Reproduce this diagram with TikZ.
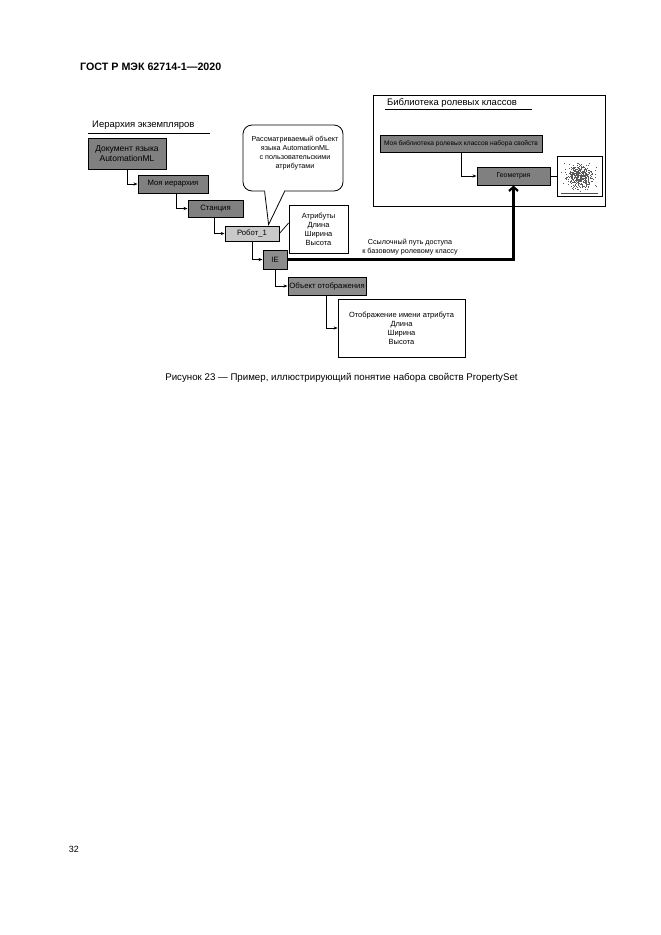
\documentclass[tikz,border=0pt]{standalone}
\usepackage{fontspec}
\setmainfont{Liberation Sans}
\usetikzlibrary{arrows.meta,calc}
\definecolor{darkbox}{HTML}{808080}
\definecolor{midbox}{HTML}{8C8C8C}
\definecolor{lightbox}{HTML}{C9C9C9}
\begin{document}
\begin{tikzpicture}[x=1pt,y=-1pt,
  box/.style={draw=black,line width=1pt,inner sep=0pt,align=center,font=\fontsize{7.7}{9}\selectfont},
  darkb/.style={box,fill=darkbox},
  midb/.style={box,fill=midbox},
  lightb/.style={box,fill=lightbox,line width=0.8pt},
  whiteb/.style={draw=black,line width=0.8pt,fill=white,inner sep=0pt,align=center,font=\fontsize{7.5}{9}\selectfont},
  conn/.style={draw=black,line width=0.8pt,-{Stealth[length=4pt,width=3.2pt]}},
  refarrow/.style={draw=black,line width=2.7pt,-{Straight Barb[length=4pt,width=9pt,line width=2.2pt]}},
  lbl/.style={inner sep=0pt,align=center,font=\fontsize{7.2}{9}\selectfont},
  title/.style={inner sep=0pt,anchor=west,font=\fontsize{9.5}{11}\selectfont}]
\useasboundingbox (0,0) rectangle (661,935);
\fill[white] (0,0) rectangle (661,935);

% page header and footer
\node[inner sep=0pt,anchor=west,font=\fontsize{10.7}{12}\selectfont\bfseries] (hdr) at (80,67) {ГОСТ Р МЭК 62714-1—2020};
\node[inner sep=0pt,font=\fontsize{9}{11}\selectfont] (pg) at (74,849) {32};
\node[inner sep=0pt,font=\fontsize{9.7}{11}\selectfont] (cap) at (341.5,378) {Рисунок 23 — Пример, иллюстрирующий понятие набора свойств PropertySet};

% instance hierarchy
\node[title] (ihtitle) at (92,125) {Иерархия экземпляров};
\draw[line width=0.6pt] (88,133) -- (210,133);

\node[darkb,minimum width=78pt,minimum height=31pt,font=\fontsize{8.5}{10}\selectfont] (doc) at (127,153.5) {Документ языка\\AutomationML};
\node[darkb,minimum width=70pt,minimum height=18pt] (mh) at (173,184) {Моя иерархия};
\node[darkb,minimum width=55pt,minimum height=17pt] (st) at (215.5,208.5) {Станция};
\node[lightb,minimum width=54pt,minimum height=15pt] (rb) at (252,233.5) {Робот\_1};
\node[midb,minimum width=24pt,minimum height=19pt] (ie) at (275,259.5) {IE};
\node[midb,minimum width=78pt,minimum height=18pt] (ob) at (327,286) {Объект отображения};
\node[whiteb,minimum width=127pt,minimum height=58pt] (map) at (401.5,328) {Отображение имени атрибута\\Длина\\Ширина\\Высота};
\node[whiteb,minimum width=59pt,minimum height=48pt] (attr) at (318.5,229) {Атрибуты\\Длина\\Ширина\\Высота};

\draw[conn] ([xshift=40pt]doc.south west) |- (mh.west);
\draw[conn] ([xshift=39pt]mh.south west) |- (st.west);
\draw[conn] ([xshift=27pt]st.south west) |- (rb.west);
\draw[conn] ([xshift=28pt]rb.south west) |- (ie.west);
\draw[conn] ([xshift=13pt]ie.south west) |- (ob.west);
\draw[conn] ([xshift=39pt]ob.south west) |- (map.west);
\draw[line width=0.7pt] (rb.east) -- ([yshift=6pt]attr.west);

% callout
\node[draw=black,line width=0.8pt,fill=white,rounded corners=9pt,minimum width=100pt,minimum height=66pt,inner sep=0pt] (call) at (293,158) {};
\coordinate (tailL) at ($(call.south west)+(22,0)$);
\coordinate (tailR) at ($(call.south west)+(42,0)$);
\coordinate (tip) at ($(rb.north west)+(44,-1)$);
\fill[white] ($(tailL)+(0.6,-1.2)$) rectangle ($(tailR)+(-0.6,1.2)$);
\fill[white] (tailL) -- (tip) -- (tailR) -- cycle;
\draw[line width=0.8pt,line join=miter] (tailL) -- (tip) -- (tailR);
\node[lbl,font=\fontsize{7.2}{9}\selectfont] (calltext) at (295,153.5) {Рассматриваемый объект\\языка AutomationML\\с пользовательскими\\атрибутами};

% role class library
\node[draw=black,line width=1pt,minimum width=232pt,minimum height=111pt,inner sep=0pt] (lib) at (489,150.5) {};
\node[title] (libtitle) at (387,103) {Библиотека ролевых классов};
\draw[line width=0.6pt] (385,109.5) -- (532,109.5);
\node[darkb,minimum width=162pt,minimum height=17pt,font=\fontsize{6.6}{8}\selectfont] (mylib) at (461,143.5) {Моя библиотека ролевых классов набора свойств};
\node[darkb,minimum width=73pt,minimum height=18pt,font=\fontsize{6.9}{8}\selectfont] (geo) at (513.5,176) {Геометрия};
\node[draw=black,line width=0.8pt,fill=white,minimum width=45pt,minimum height=40pt,inner sep=0pt] (img) at (579.5,176) {};
\draw[conn] ([xshift=82pt]mylib.south west) |- (geo.west);
\draw[line width=0.8pt] (geo.east) -- (img.west);
\pgfmathsetseed{7}
\foreach \i in {1,...,420}{
  \pgfmathsetmacro{\px}{580+14*(rnd+rnd+rnd-1.5)}
  \pgfmathsetmacro{\py}{176+12*(rnd+rnd+rnd-1.5)}
  \fill[black!65] (\px,\py) rectangle ++(0.9,0.9);
}
\draw[line width=0.5pt,black!70] ($(img.south west)+(4,-3)$) -- ($(img.south east)+(-4,-3)$);

% reference path
\draw[refarrow] (ie.east) -| (geo.south);
\node[lbl] (reftext) at (410,247.5) {Ссылочный путь доступа\\к базовому ролевому классу};
\end{tikzpicture}
\end{document}
